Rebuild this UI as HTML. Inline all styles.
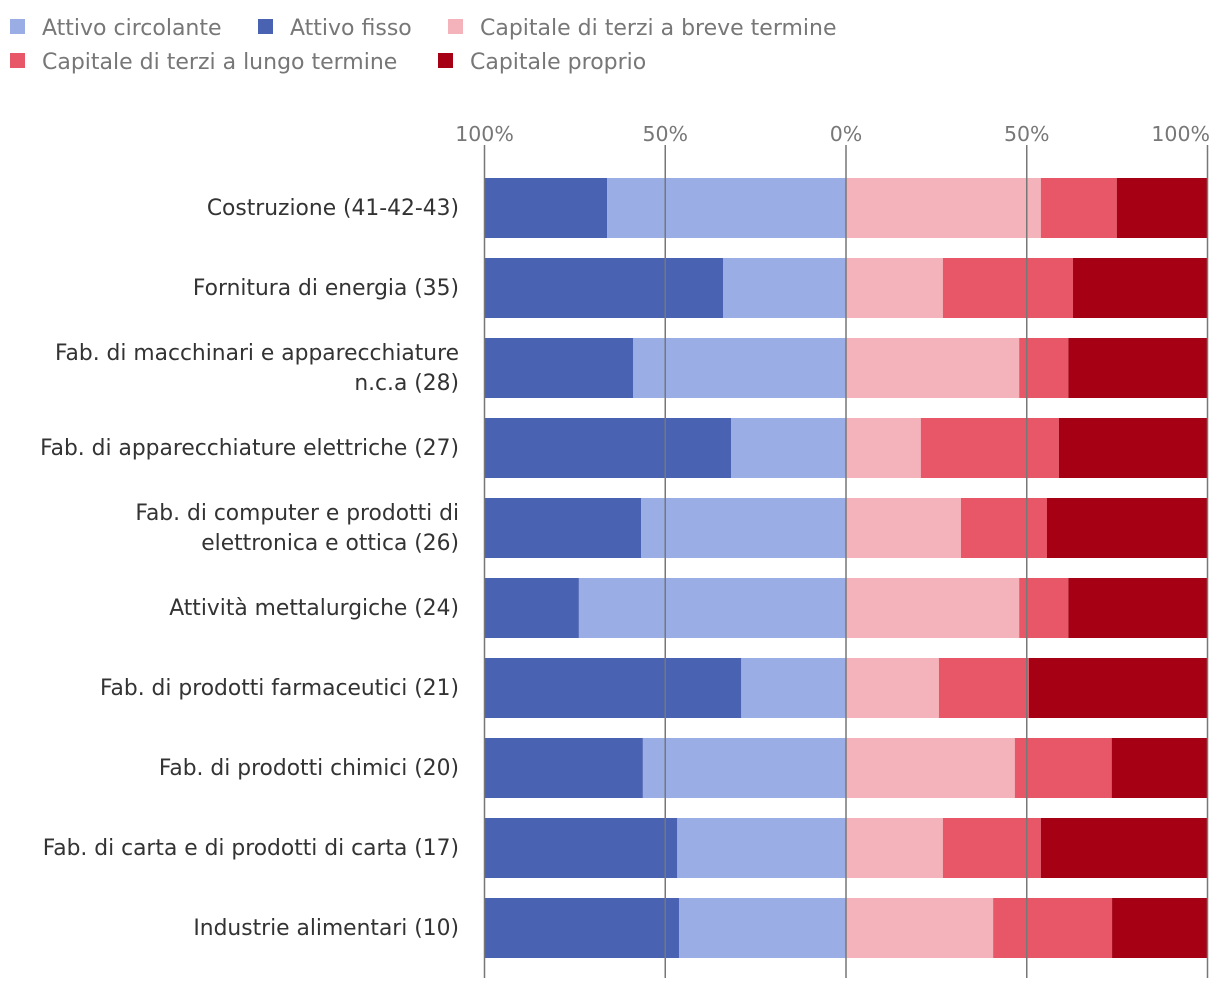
<!DOCTYPE html>
<html><head><meta charset="utf-8">
<style>
body{margin:0;background:#fff;width:1220px;height:988px;overflow:hidden;font-family:"DejaVu Sans","Liberation Sans",sans-serif;}
svg text{font-family:"DejaVu Sans","Liberation Sans",sans-serif;}
</style></head>
<body>
<svg id="chart" width="1220" height="988" xmlns="http://www.w3.org/2000/svg"></svg>
<script>
const categories=["Costruzione (41-42-43)","Fornitura di energia (35)","Fab. di macchinari e apparecchiature|n.c.a (28)","Fab. di apparecchiature elettriche (27)","Fab. di computer e prodotti di|elettronica e ottica (26)","Attività mettalurgiche (24)","Fab. di prodotti farmaceutici (21)","Fab. di prodotti chimici (20)","Fab. di carta e di prodotti di carta (17)","Industrie alimentari (10)"];
const attivoCircolante=[66.1,34.0,58.9,31.8,56.7,73.9,29.0,56.2,46.7,46.2];
const attivoFisso=[33.9,66.0,41.1,68.2,43.3,26.1,71.0,43.8,53.3,53.8];
const capBreve=[53.9,26.8,47.9,20.7,31.8,47.9,25.7,46.7,26.8,40.7];
const capLungo=[21.0,36.0,13.6,38.2,23.8,13.6,24.9,26.8,27.1,32.9];
const capProprio=[25.1,37.2,38.5,41.1,44.4,38.5,49.4,26.5,46.1,26.4];
const tickValues=[-100,-50,0,50,100];
const tickLabels=["100%","50%","0%","50%","100%"];
const legendNames=["Attivo circolante","Attivo fisso","Capitale di terzi a breve termine","Capitale di terzi a lungo termine","Capitale proprio"];
const colors=["#9aaee5","#4a62b2","#f4b3ba","#e85767","#a50014"];

const svg=document.getElementById('chart');
const NS="http://www.w3.org/2000/svg";
const x0=846,scale=361.5/100;
const xs=v=>x0+v*scale;
const rowY=i=>178+i*80;
function mk(tag,attrs,parent){const e=document.createElementNS(NS,tag);for(const k in attrs)e.setAttribute(k,attrs[k]);(parent||svg).appendChild(e);return e;}

// legend
const legPos=[[10,27],[258,27],[448,27],[10,61],[438,61]];
legendNames.forEach((n,i)=>{
  const g=mk('g',{});
  
  
  const [lx,ly]=legPos[i];
  mk('rect',{x:lx,y:ly-8,width:15,height:15,fill:colors[i]},g);
  const t=mk('text',{x:lx+32,y:ly+8,'font-size':22,fill:'#777'},g);t.textContent=n;
});

// bars
categories.forEach((c,i)=>{
  const y=rowY(i);
  const segs=[[0,-attivoCircolante[i],0],[-attivoCircolante[i],-attivoCircolante[i]-attivoFisso[i],1],
    [0,capBreve[i],2],[capBreve[i],capBreve[i]+capLungo[i],3],[capBreve[i]+capLungo[i],capBreve[i]+capLungo[i]+capProprio[i],4]];
  segs.forEach(s=>{
    const a=xs(Math.min(s[0],s[1])),b=xs(Math.max(s[0],s[1]));
    const r=mk('rect',{x:a,y:y,width:b-a,height:60,fill:colors[s[2]]});
    
    
  });
  const lines=c.split('|');
  const t=mk('text',{x:459,'text-anchor':'end','font-size':21.8,fill:'#333'});
  
  
  lines.forEach((ln,k)=>{const ts=mk('tspan',{x:459,y:y+37+(k-(lines.length-1)/2)*30},t);ts.textContent=ln;});
});

// grid + ticks
tickValues.forEach((v,i)=>{
  const l=mk('line',{x1:xs(v),x2:xs(v),y1:145,y2:978,stroke:'#777','stroke-width':1.5});
  
  
  const last=i===tickValues.length-1;
  const t=mk('text',{x:last?1210:xs(v),y:141,'text-anchor':last?'end':'middle','font-size':20.5,fill:'#777'});
  
  
  t.textContent=tickLabels[i];
});
</script>
</body></html>
